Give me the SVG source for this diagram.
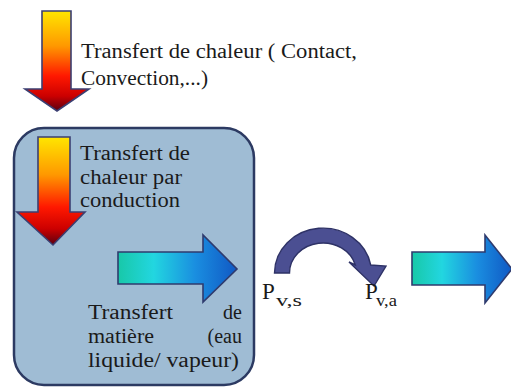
<svg xmlns="http://www.w3.org/2000/svg" width="511" height="388" viewBox="0 0 511 388">
<style>
text{fill:#1a1a1a}
.t{font-size:20px}
.p{font-size:23px}
.s{font-size:17px}
.heat{fill:url(#gHeat);stroke:#3b3f72;stroke-width:1.6;stroke-linejoin:miter}
.mass{fill:url(#gMass);stroke:#2f3b6e;stroke-width:1.6}
</style>
<defs>
<linearGradient id="gHeat" x1="0" y1="0" x2="0" y2="1">
<stop offset="0" stop-color="#ffe600"/>
<stop offset="0.35" stop-color="#ff9800"/>
<stop offset="0.65" stop-color="#ff1800"/>
<stop offset="0.85" stop-color="#cc0000"/>
<stop offset="1" stop-color="#5a0010"/>
</linearGradient>
<linearGradient id="gMass" x1="0" y1="0" x2="1" y2="0">
<stop offset="0" stop-color="#18c8a8"/>
<stop offset="0.3" stop-color="#22d6e0"/>
<stop offset="0.65" stop-color="#1a8ee0"/>
<stop offset="1" stop-color="#1058c4"/>
</linearGradient>
</defs>
<rect width="511" height="388" fill="#ffffff"/>
<g id="product">
<rect x="14" y="128" width="240" height="257" rx="30" ry="30" fill="#9fbcd4" stroke="#2c3a62" stroke-width="2.5"/>
</g>
<g id="connectors">
<path id="heatTop" class="heat" d="M42,11 L71,11 L71,89 L89,89 L57,111 L25,89 L42,89 Z"/>
<path id="heatIn" class="heat" d="M38,137 L70,137 L70,212 L85,212 L53,245 L17,212 L38,212 Z"/>
<path id="massIn" class="mass" d="M118,252 L203,252 L203,235 L237,269 L203,302 L203,284 L118,284 Z"/>
<path id="massOut" class="mass" d="M412,252 L485,252 L485,235 L512,269 L485,303 L485,285 L412,285 Z"/>
<path id="transfer" d="M274.5,273 A48.5,45 0 0 1 370.7,265 L386,266 L374,286 L349,262 L355.3,265 A33.5,30 0 0 0 289.5,273 Z" fill="#4b4f92" stroke="#2e3266" stroke-width="1.4"/>
</g>
<g id="labels" font-family="Liberation Serif, serif">
<g id="label-top">
<text class="t" x="81" y="58" textLength="276" lengthAdjust="spacingAndGlyphs">Transfert de chaleur ( Contact,</text>
<text class="t" x="81" y="85" textLength="127" lengthAdjust="spacingAndGlyphs">Convection,...)</text>
</g>
<g id="label-conduction">
<text class="t" x="80" y="160" textLength="110" lengthAdjust="spacingAndGlyphs">Transfert de</text>
<text class="t" x="80" y="184" textLength="102" lengthAdjust="spacingAndGlyphs">chaleur par</text>
<text class="t" x="80" y="207" textLength="100" lengthAdjust="spacingAndGlyphs">conduction</text>
</g>
<g id="label-mass">
<text class="t" x="88" y="319" textLength="85" lengthAdjust="spacingAndGlyphs">Transfert</text>
<text class="t" x="242" y="319" text-anchor="end">de</text>
<text class="t" x="88" y="343" textLength="66" lengthAdjust="spacingAndGlyphs">matière</text>
<text class="t" x="242" y="343" text-anchor="end">(eau</text>
<text class="t" x="88" y="367" textLength="151" lengthAdjust="spacingAndGlyphs">liquide/ vapeur)</text>
</g>
<g id="label-pvs">
<text class="p" x="262" y="299">P</text>
<text class="s" x="276" y="306" textLength="26" lengthAdjust="spacingAndGlyphs">v,s</text>
</g>
<g id="label-pva">
<text class="p" x="365" y="299">P</text>
<text class="s" x="376" y="306" textLength="21" lengthAdjust="spacingAndGlyphs">v,a</text>
</g>
</g>
</svg>
